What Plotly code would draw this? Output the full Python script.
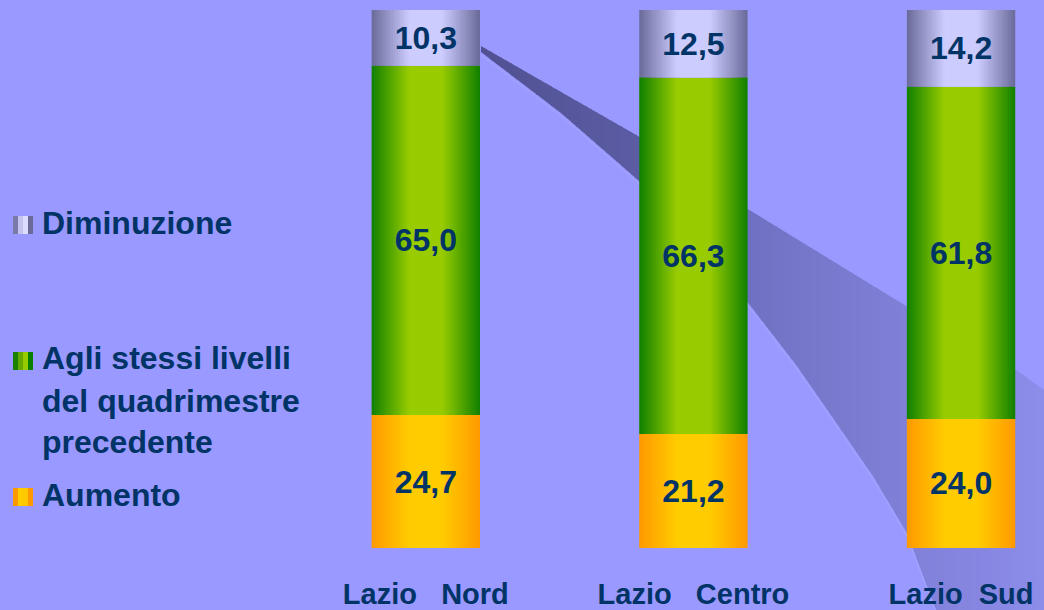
import numpy as np
import plotly.graph_objects as go

# ---------------- data ----------------
categories = ["Lazio Nord", "Lazio Centro", "Lazio Sud"]
tick_labels = ["Lazio\u00a0\u00a0\u00a0Nord", "Lazio\u00a0\u00a0\u00a0Centro", "Lazio\u00a0\u00a0Sud"]
aumento = [24.7, 21.2, 24.0]
stessi_livelli = [65.0, 66.3, 61.8]
diminuzione = [10.3, 12.5, 14.2]
legend_diminuzione = ["Diminuzione"]
legend_stessi = ["Agli stessi livelli", "del quadrimestre", "precedente"]
legend_aumento = ["Aumento"]

# ---------------- layout constants ----------------
W, H = 1044, 610
ML, MR, MT, MB = 292, 0, 10, 62
PW, PH = W - ML - MR, H - MT - MB
BG = "#9999ff"
TXT = "#003366"
FONT = "Liberation Sans, Arial, sans-serif"


def px(x):
    return (x - ML) / PW


def py(y):
    return (H - MB - y) / PH


def lerp(c1, c2, t):
    return tuple(int(round(a + (b - a) * t)) for a, b in zip(c1, c2))


def rgb(c):
    return f"rgb({c[0]},{c[1]},{c[2]})"


BAR_W = 0.405
N_LAYERS = 16

series = [
    ("Aumento", aumento, (255, 153, 0), (255, 204, 0)),
    ("Agli stessi livelli del quadrimestre precedente", stessi_livelli, (16, 128, 0), (153, 204, 0)),
    ("Diminuzione", diminuzione, (106, 106, 154), (204, 204, 255)),
]

fig = go.Figure()
base = [0.0, 0.0, 0.0]
for name, vals, edge, center in series:
    for k in range(N_LAYERS + 1):
        h = 1 - 0.7 * k / N_LAYERS
        t = 1.0 if k == N_LAYERS else (k + 0.5) / N_LAYERS
        fig.add_trace(go.Bar(
            x=categories, y=vals, base=base, width=BAR_W * h,
            marker=dict(color=rgb(lerp(edge, center, t)), line=dict(width=0)),
            showlegend=False, hoverinfo="skip", name=name,
        ))
    fig.add_trace(go.Bar(
        x=categories, y=vals, base=base, width=BAR_W,
        marker=dict(color="rgba(0,0,0,0)", line=dict(width=0)),
        text=[f"{v:.1f}".replace(".", ",") for v in vals],
        textposition="inside", insidetextanchor="middle", textangle=0,
        textfont=dict(family=FONT, size=32, color=TXT, weight=700),
        showlegend=False, name=name, hovertemplate="%{x}: %{text}<extra>" + name + "</extra>",
    ))
    base = [b + v for b, v in zip(base, vals)]

# ---------------- decorative swoosh (background) ----------------
upper_pts = [(481, 46), (561, 92), (638, 136), (746, 208), (906, 306), (1016, 370), (1044, 390)]
lower_pts = [(481, 52), (561, 113), (638, 180), (746, 300), (797, 366), (840, 428),
             (873, 476), (907, 533), (937, 612)]
ux, uy = zip(*upper_pts)
lx, ly = zip(*lower_pts)


def upper(x):
    return float(np.interp(x, ux, uy))


def lower(x):
    return float(np.interp(x, lx, ly, right=612))


col_x = [481, 640, 746, 906, 1044]
col_c = [(80, 80, 146), (92, 92, 164), (112, 112, 194), (128, 128, 216), (140, 140, 234)]


def col_at(x):
    return tuple(int(round(np.interp(x, col_x, [c[i] for c in col_c]))) for i in range(3))


shapes = []
xs = list(np.arange(481, 1044, 5)) + [1044]
for i in range(len(xs) - 1):
    x0, x1 = xs[i], min(xs[i + 1] + 1, 1045)
    pts = [(x0, upper(x0)), (x1, upper(x1))]
    lows = [x1] + [p for p in lx[::-1] if x0 < p < x1] + [x0]
    pts += [(xx, lower(xx)) for xx in lows]
    path = "M " + " L ".join(f"{px(a):.5f},{py(b):.5f}" for a, b in pts) + " Z"
    shapes.append(dict(type="path", path=path, xref="paper", yref="paper",
                       fillcolor=rgb(col_at((x0 + x1) / 2)), line=dict(width=0), layer="below"))

# thin highlight along the lower edge
hl = [(x, y + 3) for x, y in lower_pts]
shapes.append(dict(type="path", xref="paper", yref="paper", layer="below",
                   path="M " + " L ".join(f"{px(a):.5f},{py(b):.5f}" for a, b in hl),
                   line=dict(color="rgba(175,175,255,0.55)", width=1)))

# ---------------- legend (markers + text) ----------------
marker_specs = [
    (216, ["#7a7aaa", "#c4c4ee", "#dcdcff", "#6a6a98"]),
    (352, ["#1a8000", "#66a800", "#99cc00", "#0a8000"]),
    (488, ["#ff9900", "#ffcc00", "#ffc800", "#ff9900"]),
]
for top, cols in marker_specs:
    for j, c in enumerate(cols):
        shapes.append(dict(type="rect", xref="paper", yref="paper",
                           x0=px(13 + 5 * j), x1=px(18 + 5 * j), y0=py(top + 18), y1=py(top),
                           fillcolor=c, line=dict(width=0), layer="above"))

annotations = []
legend_text = [(legend_diminuzione[0], 223), (legend_stessi[0], 358), (legend_stessi[1], 401),
               (legend_stessi[2], 442), (legend_aumento[0], 495)]
for txt, yc in legend_text:
    annotations.append(dict(text=txt, xref="paper", yref="paper", x=px(40), y=py(yc),
                            xanchor="left", yanchor="middle", showarrow=False,
                            font=dict(family=FONT, size=32, color=TXT, weight=700)))

fig.update_layout(
    width=W, height=H, autosize=False,
    margin=dict(l=ML, r=MR, t=MT, b=MB, pad=0),
    paper_bgcolor=BG, plot_bgcolor="rgba(0,0,0,0)",
    barmode="overlay", showlegend=False,
    shapes=shapes, annotations=annotations,
    font=dict(family=FONT, color=TXT),
    xaxis=dict(range=[-0.5, 2.31], tickmode="array", tickvals=categories, ticktext=tick_labels,
               showgrid=False, zeroline=False, showline=False, ticks="",
               ticklabelstandoff=26,
               tickfont=dict(family=FONT, size=29, color=TXT, weight=700)),
    yaxis=dict(range=[0, 100], visible=False, showgrid=False, zeroline=False),
)

fig.write_html("out.html", config={"displayModeBar": False},
               post_script="document.body.style.margin='0';document.body.style.background='" + BG + "';")
